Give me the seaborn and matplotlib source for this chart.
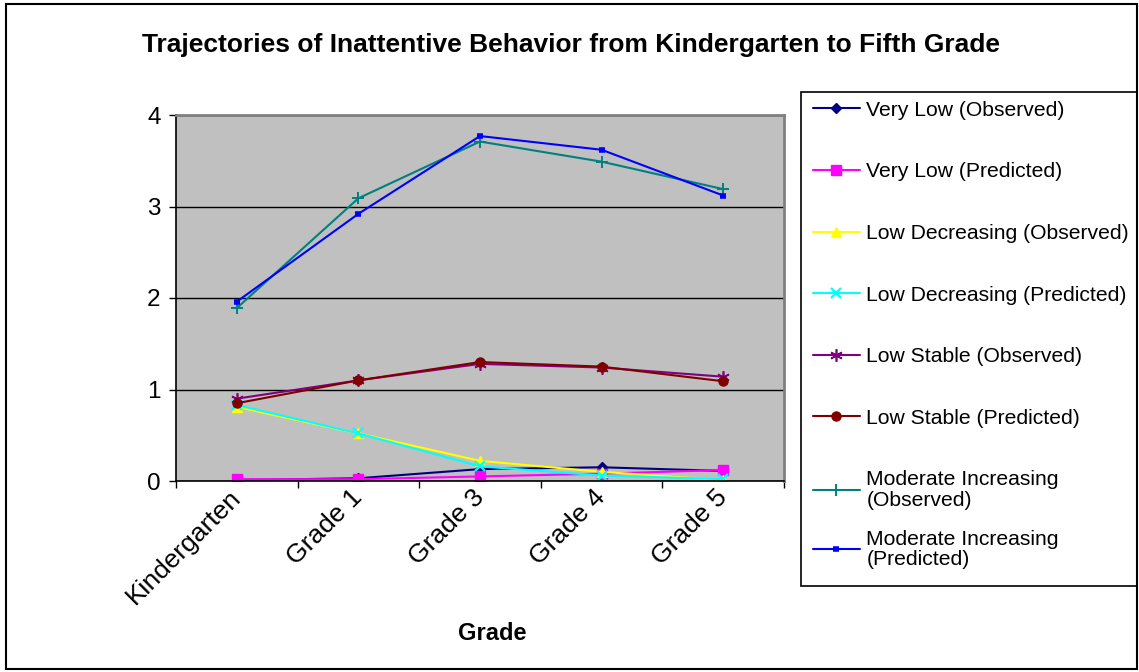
import matplotlib
matplotlib.use("Agg")
import matplotlib.pyplot as plt
import seaborn as sns
import pandas as pd
from matplotlib.patches import Rectangle

grades = ["Kindergarten", "Grade 1", "Grade 3", "Grade 4", "Grade 5"]

very_low_obs = [0.01, 0.03, 0.13, 0.15, 0.11]
very_low_pred = [0.02, 0.02, 0.05, 0.08, 0.12]
low_dec_obs = [0.81, 0.52, 0.22, 0.10, 0.01]
low_dec_pred = [0.83, 0.52, 0.16, 0.06, 0.02]
low_stable_obs = [0.90, 1.10, 1.28, 1.24, 1.14]
low_stable_pred = [0.85, 1.10, 1.30, 1.25, 1.09]
mod_inc_obs = [1.89, 3.09, 3.71, 3.49, 3.19]
mod_inc_pred = [1.96, 2.92, 3.77, 3.62, 3.12]

series_names = [
    "Very Low (Observed)",
    "Very Low (Predicted)",
    "Low Decreasing (Observed)",
    "Low Decreasing (Predicted)",
    "Low Stable (Observed)",
    "Low Stable (Predicted)",
    "Moderate Increasing\n(Observed)",
    "Moderate Increasing\n(Predicted)",
]
series_values = [very_low_obs, very_low_pred, low_dec_obs, low_dec_pred,
                 low_stable_obs, low_stable_pred, mod_inc_obs, mod_inc_pred]

styles = [
    dict(color="#000080", marker="D", ms=5.5, mew=1),
    dict(color="#FF00FF", marker="s", ms=6.5, mew=1),
    dict(color="#FFFF00", marker="^", ms=7, mew=1),
    dict(color="#00FFFF", marker="x", ms=7, mew=1.6),
    dict(color="#800080", marker=(6, 2, 0), ms=9, mew=1.2),
    dict(color="#800000", marker="o", ms=6.5, mew=1),
    dict(color="#008080", marker="+", ms=9, mew=1.4),
    dict(color="#0000FF", marker="_", ms=5, mew=4),
]

sns.set_style("white")
plt.rcParams["font.family"] = ["Liberation Sans", "DejaVu Sans"]
plt.rcParams["text.color"] = "black"
plt.rcParams["axes.labelcolor"] = "black"
plt.rcParams["xtick.color"] = "black"
plt.rcParams["ytick.color"] = "black"

fig = plt.figure(figsize=(11.39, 6.72), dpi=100)
W, H = 1139, 672
ax = fig.add_axes([176 / W, 1 - 481 / H, (784 - 176) / W, (481 - 115) / H])
ax.set_facecolor("#C0C0C0")

for name, vals, st in zip(series_names, series_values, styles):
    df = pd.DataFrame({"Grade": grades, "Value": vals})
    sns.lineplot(data=df, x="Grade", y="Value", ax=ax, color=st["color"],
                 marker=st["marker"], markersize=st["ms"], markeredgewidth=st["mew"],
                 markeredgecolor=st["color"], markerfacecolor=st["color"],
                 linewidth=1.5, label=name, sort=False)

ax.set_xlim(-0.5, 4.5)
ax.set_ylim(0, 4)
ax.set_yticks([0, 1, 2, 3, 4])
ax.set_xticks([0, 1, 2, 3, 4])
ax.set_xticks([-0.5, 0.5, 1.5, 2.5, 3.5, 4.5], minor=True)
ax.set_xticklabels(grades, rotation=45, ha="right", va="center", rotation_mode="anchor")
ax.tick_params(axis="x", which="major", length=0, pad=9, labelsize=19)
ax.tick_params(axis="x", which="minor", length=5, width=1, color="black", direction="out", bottom=True)
ax.tick_params(axis="y", length=5, width=1, color="black", direction="out", left=True, pad=6, labelsize=17.5)

ax.yaxis.grid(True, color="black", linewidth=1)
ax.xaxis.grid(False)
ax.set_axisbelow(True)

for s in ["left", "bottom"]:
    ax.spines[s].set_color("black")
    ax.spines[s].set_linewidth(1.2)
for s in ["top", "right"]:
    ax.spines[s].set_color("#808080")
    ax.spines[s].set_linewidth(2)

ax.set_ylabel("")
ax.set_xlabel("Grade", fontsize=17, fontweight="bold")
ax.xaxis.set_label_coords((492 - 176) / 608, (481 - 622) / 366)

fig.text(571 / W, 1 - 45 / H, "Trajectories of Inattentive Behavior from Kindergarten to Fifth Grade",
         ha="center", va="center", fontsize=19, fontweight="bold")

handles, labels = ax.get_legend_handles_labels()
leg_kw = dict(loc="upper left", bbox_transform=fig.transFigure,
              fontsize=15.2, frameon=False,
              handlelength=2.25, handletextpad=0.3, labelspacing=2.02,
              borderpad=0.55, borderaxespad=0)
leg1 = ax.legend(handles[:7], labels[:7], bbox_to_anchor=(801 / W, 1 - 89 / H), **leg_kw)
for t in leg1.get_texts():
    t.set_linespacing(1.1)
ax.add_artist(leg1)
leg2 = ax.legend(handles[7:], labels[7:], bbox_to_anchor=(801 / W, 1 - 518 / H), **leg_kw)
for t in leg2.get_texts():
    t.set_linespacing(1.1)

# legend frame
fig.patches.append(Rectangle((801 / W, 1 - 586 / H), (1137 - 801) / W, (586 - 92) / H,
                             transform=fig.transFigure, fill=False,
                             edgecolor="black", linewidth=1.2))
# chart border
fig.patches.append(Rectangle((6 / W, 3 / H), (1137 - 6) / W, (668 - 3) / H,
                             transform=fig.transFigure, fill=False,
                             edgecolor="black", linewidth=1.5))

fig.savefig("out.png", dpi=100)
